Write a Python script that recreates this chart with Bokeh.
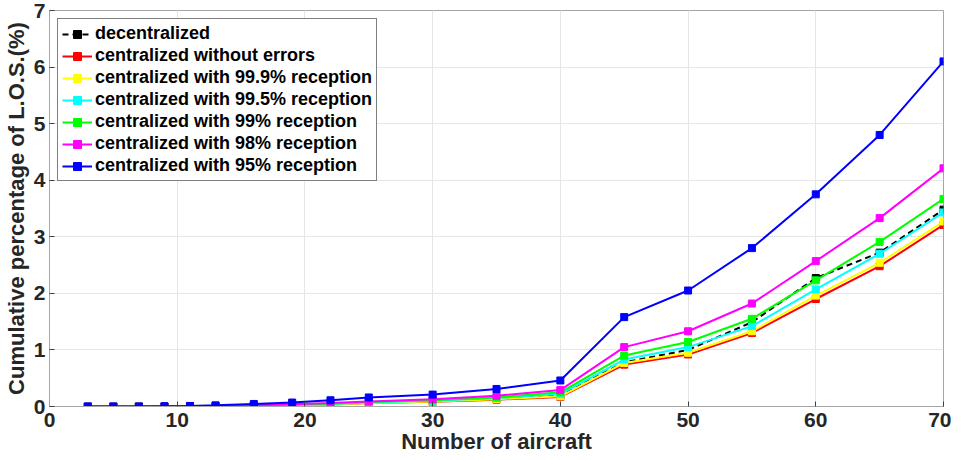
from bokeh.plotting import figure
from bokeh.models import Range1d, FixedTicker, Legend
from bokeh.embed import file_html
from bokeh.resources import INLINE

x = [3, 5, 7, 9, 11, 13, 16, 19, 22, 25, 30, 35, 40, 45, 50, 55, 60, 65, 70]

decentralized = [0, 0, 0, 0, 0.004, 0.006, 0.012, 0.025, 0.04, 0.07, 0.10, 0.14, 0.20,
                 0.78, 1.00, 1.49, 2.27, 2.72, 3.48]
cent_no_err = [0, 0, 0, 0, 0.003, 0.005, 0.010, 0.020, 0.035, 0.06, 0.085, 0.12, 0.17,
               0.74, 0.92, 1.30, 1.90, 2.48, 3.21]
cent_999 = [0, 0, 0, 0, 0.003, 0.005, 0.010, 0.020, 0.035, 0.06, 0.09, 0.13, 0.18,
            0.77, 0.95, 1.33, 1.96, 2.54, 3.27]
cent_995 = [0, 0, 0, 0, 0.004, 0.007, 0.013, 0.028, 0.045, 0.07, 0.10, 0.15, 0.22,
            0.83, 1.05, 1.42, 2.07, 2.70, 3.43]
cent_99 = [0, 0, 0, 0, 0.005, 0.008, 0.015, 0.030, 0.05, 0.08, 0.11, 0.16, 0.25,
           0.90, 1.14, 1.55, 2.23, 2.91, 3.67]
cent_98 = [0, 0, 0, 0, 0.005, 0.010, 0.020, 0.040, 0.06, 0.09, 0.13, 0.19, 0.29,
           1.05, 1.33, 1.82, 2.57, 3.33, 4.21]
cent_95 = [0, 0, 0, 0.005, 0.010, 0.020, 0.045, 0.07, 0.11, 0.16, 0.21, 0.31, 0.46,
           1.58, 2.05, 2.80, 3.75, 4.80, 6.10]

labels = ["decentralized", "centralized without errors", "centralized with 99.9% reception",
          "centralized with 99.5% reception", "centralized with 99% reception",
          "centralized with 98% reception", "centralized with 95% reception"]
series = [decentralized, cent_no_err, cent_999, cent_995, cent_99, cent_98, cent_95]
colors = ["#000000", "#ff0000", "#ffff00", "#00ffff", "#00ff00", "#ff00ff", "#0000ff"]

x_ticks = [0, 10, 20, 30, 40, 50, 60, 70]
y_ticks = [0, 1, 2, 3, 4, 5, 6, 7]

FONT = "Liberation Sans"

p = figure(width=951, height=456, output_backend="svg", toolbar_location=None,
           x_range=Range1d(0, 70), y_range=Range1d(0, 7),
           min_border_left=49, min_border_right=8, min_border_top=10, min_border_bottom=10)
p.background_fill_color = "white"
p.border_fill_color = "white"
p.outline_line_color = "#a6a6a6"
p.outline_line_width = 1

items = []
for lab, ys, c in zip(labels, series, colors):
    dash = "6 4" if lab == "decentralized" else "solid"
    r1 = p.line(x, ys, line_color=c, line_width=2, line_dash=dash)
    r2 = p.scatter(x, ys, marker="square", size=7, fill_color=c, line_color=c)
    items.append((lab, [r1, r2]))

legend = Legend(items=items, location="top_left")
legend.label_text_font = FONT
legend.label_text_font_style = "bold"
legend.label_text_font_size = "18px"
legend.label_text_color = "#000000"
legend.glyph_width = 30
legend.glyph_height = 20
legend.label_height = 20
legend.spacing = 1
legend.padding = 4
legend.margin = 8
legend.label_standoff = 3
legend.border_line_color = "#000000"
legend.border_line_width = 1
legend.background_fill_alpha = 1
p.add_layout(legend, "center")

for ax in (p.xaxis[0], p.yaxis[0]):
    ax.axis_line_color = "#a6a6a6"
    ax.major_tick_line_color = "#404040"
    ax.major_tick_in = 5
    ax.major_tick_out = 0
    ax.minor_tick_line_color = None
    ax.major_label_text_font = FONT
    ax.major_label_text_font_style = "bold"
    ax.major_label_text_font_size = "21px"
    ax.major_label_text_color = "#262626"
    ax.axis_label_text_font = FONT
    ax.axis_label_text_font_style = "bold"
    ax.axis_label_text_font_size = "22px"
    ax.axis_label_text_color = "#262626"

p.xaxis.ticker = FixedTicker(ticks=x_ticks)
p.yaxis.ticker = FixedTicker(ticks=y_ticks)
p.xaxis.axis_label = "Number of aircraft"
p.yaxis.axis_label = "Cumulative percentage of L.O.S.(%)"
p.xaxis.major_label_standoff = 6
p.xaxis.axis_label_standoff = -1
p.yaxis.major_label_standoff = 4
p.yaxis.axis_label_standoff = 2

p.xgrid.grid_line_color = "#e6e6e6"
p.ygrid.grid_line_color = "#e6e6e6"
p.xgrid.ticker = FixedTicker(ticks=x_ticks)
p.ygrid.ticker = FixedTicker(ticks=y_ticks)

open("out.html", "w").write(file_html(p, INLINE))
